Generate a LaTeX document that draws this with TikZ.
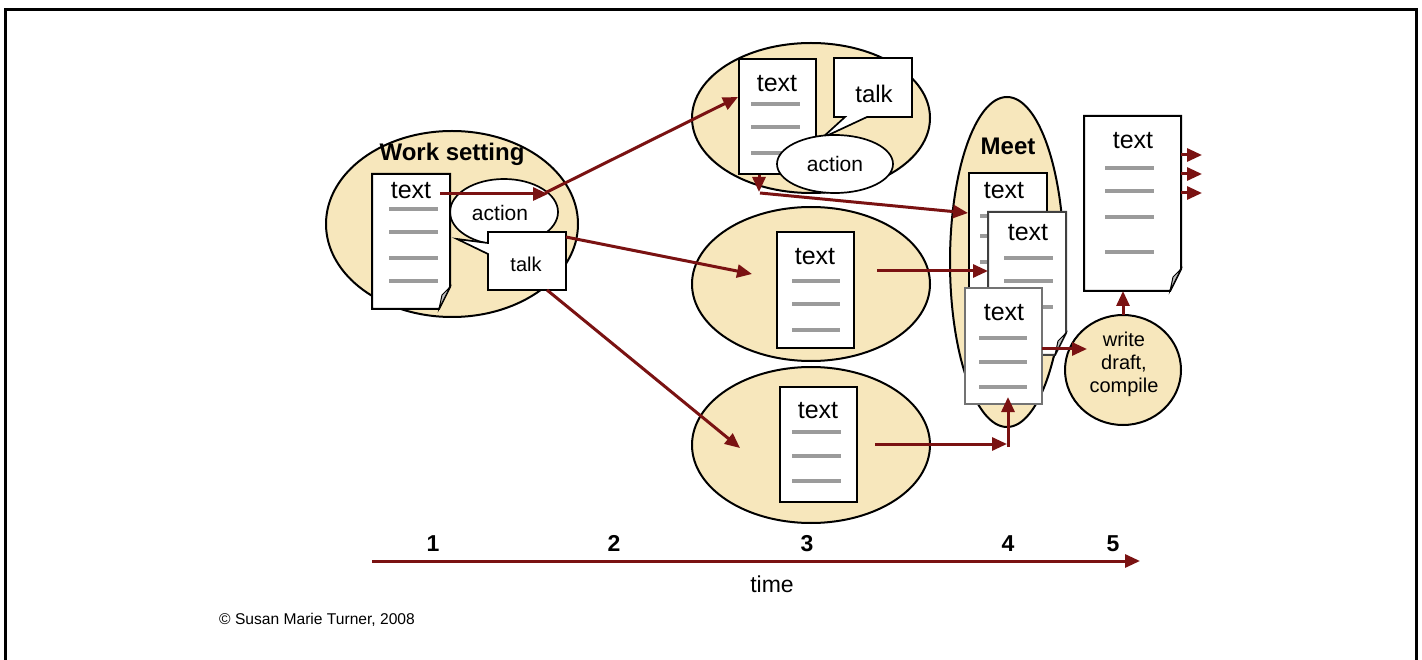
\documentclass[tikz,border=0pt]{standalone}
\usepackage{fontspec}
\setmainfont{Liberation Sans}
\usetikzlibrary{arrows.meta,shapes.geometric}

\definecolor{maroon}{RGB}{122,18,18}
\definecolor{wheat}{RGB}{247,231,188}
\definecolor{rulegray}{RGB}{155,155,155}

\newcommand\fs[1]{\fontsize{#1}{#1}\selectfont}

\tikzset{
  setting/.style={draw=black, line width=2pt, fill=wheat, inner sep=0pt},
  bubble/.style={draw=black, line width=1.7pt, fill=white, inner sep=0pt},
  page/.style={draw=black, line width=2pt, fill=white},
  curl/.style={draw=black, line width=1pt, fill=black!25},
  textrule/.style={draw=rulegray, line width=4pt},
  flow/.style={draw=maroon, line width=3pt, -{Triangle[length=15pt,width=13pt]}},
  frame/.style={draw=black, line width=3pt},
  doclbl/.style={font=\fs{25}, inner sep=0pt},
  smalllbl/.style={font=\fs{21}, inner sep=0pt},
  boldlbl/.style={font=\fs{24}\bfseries, inner sep=0pt},
  ticklbl/.style={font=\fs{23}\bfseries, inner sep=0pt, anchor=base},
}

% plain sheet: left, top, right, bottom
\newcommand\sheet[5][page]{%
  \path[#1] (#2,#3) -- (#4,#3) -- (#4,#5) -- (#2,#5) -- cycle;}
% sheet with a curled lower right corner
\newcommand\curledsheet[5][page]{%
  \path[#1] (#2,#3) -- (#4,#3) -- ({#4},{#5-22}) -- ({#4-11},{#5}) -- (#2,#5) -- cycle;
  \path[curl] ({#4},{#5-22}) -- ({#4-11},{#5}) -- ({#4-8},{#5-14}) -- cycle;}
% grey lines standing for written text: x from, x to, list of y
\newcommand\textrules[3]{%
  \foreach \yy in {#3} \draw[textrule] (#1,\yy) -- (#2,\yy);}

\begin{document}
\begin{tikzpicture}[x=1pt,y=-1pt]
\useasboundingbox (0,0) rectangle (1422,660);

% outer frame (open at the bottom)
\draw[frame] (5,664) -- (5,10) -- (1416,10) -- (1416,664);

% ---------------- work setting ----------------
\node[setting, ellipse, minimum width=252pt, minimum height=186pt] (work) at (452,224) {};
\node[boldlbl] (worklbl) at (452,154) {Work setting};
\node[bubble, ellipse, minimum width=108pt, minimum height=66pt] (wsaction) at (504,212) {};
\node[smalllbl] (wsactionlbl) at (500,213) {action};
\curledsheet{372}{174}{450}{309}
\node[doclbl] (wstext) at (411,191) {text};
\textrules{389}{438}{209,232,258,281}
\path[bubble] (488,232) -- (566,232) -- (566,290) -- (488,290) -- (488,254)
  -- (457,239) -- (488,243) -- cycle;
\node[font=\fs{20}, inner sep=0pt] (wstalk) at (526,264) {talk};

% ---------------- upper setting ----------------
\node[setting, ellipse, minimum width=238pt, minimum height=150pt] (upper) at (811,118) {};
\sheet{739}{59}{816}{174}
\node[doclbl] (uptext) at (777,84) {text};
\textrules{751}{800}{104,127,153}
\path[bubble] (834,58) -- (912,58) -- (912,117) -- (867,117) -- (822,138)
  -- (845,117) -- (834,117) -- cycle;
\node[font=\fs{24}, inner sep=0pt] (uptalk) at (874,94) {talk};
\node[bubble, ellipse, minimum width=116pt, minimum height=58pt] (upaction) at (835,164) {};
\node[smalllbl] (upactionlbl) at (835,164) {action};

% ---------------- middle setting ----------------
\node[setting, ellipse, minimum width=238pt, minimum height=154pt] (middle) at (811,284) {};
\sheet{777}{232}{854}{348}
\node[doclbl] (midtext) at (815,257) {text};
\textrules{792}{840}{281,304,330}

% ---------------- lower setting ----------------
\node[setting, ellipse, minimum width=238pt, minimum height=156pt] (lower) at (811,445) {};
\sheet{780}{387}{857}{502}
\node[doclbl] (lowtext) at (818,411) {text};
\textrules{792}{841}{432,456,481}

% ---------------- meeting ----------------
\node[setting, ellipse, minimum width=114pt, minimum height=330pt] (meet) at (1007,262) {};
\node[boldlbl] (meetlbl) at (1008,146) {Meet};
\sheet{969}{173}{1047}{288}
\node[doclbl] (meettextA) at (1004,191) {text};
\textrules{980}{1030}{216,236,262}
\curledsheet[page, draw=black!75]{988}{212}{1066}{355}
\node[doclbl] (meettextB) at (1028,233) {text};
\textrules{1004}{1053}{258,281,307}
\sheet[page, draw=black!55]{965}{288}{1042}{404}
\node[doclbl] (meettextC) at (1004,313) {text};
\textrules{979}{1027}{338,362,387}

% ---------------- writing up ----------------
\node[setting, ellipse, minimum width=116pt, minimum height=110pt] (write) at (1123,370) {};
\node[font=\fs{20}, align=center, inner sep=0pt] (writelbl) at (1124,364)
  {write\\[3pt]draft,\\[3pt]compile};
\curledsheet{1084}{116}{1181}{291}
\node[doclbl] (finaltext) at (1133,141) {text};
\textrules{1105}{1154}{168,191,217,252}

% ---------------- connector end points ----------------
\coordinate (wsA) at (440,194);   \coordinate (wsB) at (548,194);
\coordinate (acOut) at (545,193); \coordinate (upIn) at (738,97);
\coordinate (tkOutA) at (566,237); \coordinate (midIn) at (752,274);
\coordinate (tkOutB) at (547,290); \coordinate (lowIn) at (740,448);
\coordinate (upOut) at (759,175);  \coordinate (upDown) at (759,192);
\coordinate (upTurn) at (760,193); \coordinate (meetA) at (968,213);
\coordinate (midOut) at (877,271); \coordinate (meetB) at (988,271);
\coordinate (lowOut) at (875,444); \coordinate (lowEnd) at (1007,444);
\coordinate (riseFrom) at (1008,447); \coordinate (meetC) at (1008,397);
\coordinate (cOut) at (1042,349);  \coordinate (writeIn) at (1087,349);
\coordinate (writeTop) at (1123,315); \coordinate (finalIn) at (1123,291);
\foreach \k/\yy in {1/155,2/174,3/193}{
  \coordinate (fOut\k) at (1181,\yy);
  \coordinate (fEnd\k) at (1202,\yy);
}

% ---------------- connectors ----------------
\draw[flow] (wsA) -- (wsB);
\draw[flow] (acOut) -- (upIn);
\draw[flow] (tkOutA) -- (midIn);
\draw[flow] (tkOutB) -- (lowIn);
\draw[flow] (upOut) -- (upDown);
\draw[flow] (upTurn) -- (meetA);
\draw[flow] (midOut) -- (meetB);
\draw[flow] (lowOut) -- (lowEnd);
\draw[flow] (riseFrom) -- (meetC);
\draw[flow] (cOut) -- (writeIn);
\draw[flow] (writeTop) -- (finalIn);
\foreach \k in {1,2,3} \draw[flow] (fOut\k) -- (fEnd\k);

% ---------------- time line ----------------
\coordinate (tStart) at (372,561);
\coordinate (tEnd) at (1140,561);
\draw[flow] (tStart) -- (tEnd);
\node[ticklbl] (t1) at (433,551) {1};
\node[ticklbl] (t2) at (614,551) {2};
\node[ticklbl] (t3) at (807,551) {3};
\node[ticklbl] (t4) at (1008,551) {4};
\node[ticklbl] (t5) at (1113,551) {5};
\node[font=\fs{23}, inner sep=0pt] (timelbl) at (772,584) {time};
\node[font=\fs{15.6}, inner sep=0pt, anchor=west] (copy) at (219,620) {© Susan Marie Turner, 2008};
\end{tikzpicture}
\end{document}
